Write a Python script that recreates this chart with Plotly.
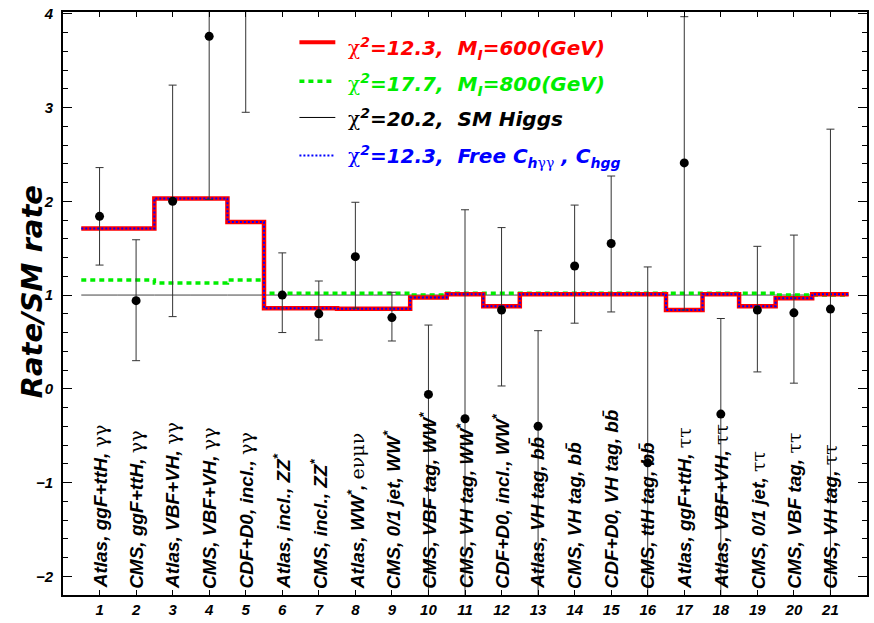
import plotly.graph_objects as go

# Channel index and labels (greek symbols rendered upright in a serif face)
SYM = '<span style="font-family:DejaVu Serif;font-weight:normal;font-style:normal">{}</span>'
GG = SYM.format("γγ")
TT = SYM.format("ττ")
BB = "bb\u0304"

channels = list(range(1, 22))
channel_labels = [
    "Atlas, ggF+ttH, " + GG,
    "CMS, ggF+ttH, " + GG,
    "Atlas, VBF+VH, " + GG,
    "CMS, VBF+VH, " + GG,
    "CDF+D0, incl., " + GG,
    "Atlas, incl., ZZ<sup>*</sup>",
    "CMS, incl., ZZ<sup>*</sup>",
    "Atlas, WW<sup>*</sup>, " + SYM.format("eνμν"),
    "CMS, 0/1 jet, WW<sup>*</sup>",
    "CMS, VBF tag, WW<sup>*</sup>",
    "CMS, VH tag, WW<sup>*</sup>",
    "CDF+D0, incl., WW<sup>*</sup>",
    "Atlas, VH tag, " + BB,
    "CMS, VH tag, " + BB,
    "CDF+D0, VH tag, " + BB,
    "CMS, ttH tag, " + BB,
    "Atlas, ggF+ttH, " + TT,
    "Atlas, VBF+VH, " + TT,
    "CMS, 0/1 jet, " + TT,
    "CMS, VBF tag, " + TT,
    "CMS, VH tag, " + TT,
]

# Measured signal strengths with asymmetric uncertainties
rate = [1.84, 0.94, 2.00, 3.76, 5.60, 1.00, 0.80, 1.41, 0.76, -0.06, -0.32,
        0.84, -0.40, 1.31, 1.55, -0.79, 2.41, -0.27, 0.84, 0.81, 0.85]
err_up = [0.52, 0.65, 1.24, 1.80, 2.00, 0.45, 0.35, 0.58, 0.27, 0.74, 2.23,
          0.88, 1.02, 0.65, 0.72, 2.09, 1.56, 1.02, 0.68, 0.83, 1.92]
err_dn = [0.52, 0.64, 1.23, 1.74, 2.65, 0.40, 0.28, 0.55, 0.25, 2.60, 2.40,
          0.81, 2.20, 0.61, 0.73, 1.90, 1.57, 2.40, 0.66, 0.75, 3.50]

# Model predictions per channel
pred_600 = [1.71, 1.71, 2.03, 2.03, 1.78, 0.86, 0.86, 0.855, 0.855, 0.975, 1.01,
            0.88, 1.01, 1.01, 1.01, 1.01, 0.84, 1.01, 0.88, 0.965, 1.01]
pred_800 = [1.16, 1.16, 1.13, 1.13, 1.16, 1.02, 1.02, 1.02, 1.02, 1.00, 1.02,
            1.02, 1.02, 1.02, 1.02, 1.02, 1.02, 1.02, 1.02, 1.00, 1.00]
pred_sm = [1.0] * 21
pred_free = list(pred_600)

# Legend texts
legend_texts = [
    "χ<sup>2</sup>=12.3,\u00a0\u00a0M<sub>I</sub>=600(GeV)",
    "χ<sup>2</sup>=17.7,\u00a0\u00a0M<sub>I</sub>=800(GeV)",
    "χ<sup>2</sup>=20.2,\u00a0\u00a0SM Higgs",
    "χ<sup>2</sup>=12.3,\u00a0\u00a0Free C<sub>h" + SYM.format("γγ") + "</sub> , C<sub>hgg</sub>",
]

FONT = "DejaVu Sans"
LFONT = "Liberation Sans"


def steps(values):
    edges = [c - 0.5 for c in channels] + [channels[-1] + 0.5]
    return edges, list(values) + [values[-1]]


fig = go.Figure()

styles = [
    (pred_sm, dict(color="#444444", width=1)),
    (pred_800, dict(color="#00ee00", width=3.5, dash="5px,4px")),
    (pred_600, dict(color="#ff0000", width=4.5)),
    (pred_free, dict(color="#0000ff", width=2, dash="2px,2px")),
]
for vals, ln in styles:
    ex, ey = steps(vals)
    fig.add_trace(go.Scatter(x=ex, y=ey, mode="lines", line_shape="hv",
                             line=ln, showlegend=False, hoverinfo="skip"))

fig.add_trace(go.Scatter(
    x=channels, y=rate, mode="markers",
    marker=dict(color="black", size=9),
    error_y=dict(type="data", symmetric=False, array=err_up, arrayminus=err_dn,
                 color="#333333", thickness=1, width=4),
    showlegend=False,
))

# Channel labels written vertically inside the frame
for c, lab in zip(channels, channel_labels):
    fig.add_annotation(x=c, y=-2.155, xref="x", yref="y", text=lab,
                       textangle=-90, xanchor="center", yanchor="bottom",
                       showarrow=False,
                       font=dict(family=LFONT, size=19, color="black",
                                 weight="bold", style="italic"))

# Legend block
x0, x1, xt = 300, 336, 347
row_y = [37, 77, 114, 153]
text_y = [43, 80, 115, 154]
colors = ["#ff0000", "#00ee00", "black", "#0000ff"]
line_styles = [dict(color="#ff0000", width=4),
               dict(color="#00ee00", width=3.5, dash="5px,4px"),
               dict(color="black", width=1),
               dict(color="#0000ff", width=2, dash="2px,2px")]
W, H = 806.0, 597.0
for ry, ty, col, ls, txt in zip(row_y, text_y, colors, line_styles, legend_texts):
    py = (603 - ry) / H
    fig.add_shape(type="line", xref="paper", yref="paper",
                  x0=(x0 - 63) / W, x1=(x1 - 63) / W, y0=py, y1=py, line=ls)
    txt = txt.replace("χ", SYM.format("χ"))
    fig.add_annotation(xref="paper", yref="paper", x=(xt - 63) / W,
                       y=(603 - ty) / H, text=txt, showarrow=False,
                       xanchor="left", yanchor="middle",
                       font=dict(family=FONT, size=20, color=col,
                                 weight="bold", style="italic"))

# Y axis title
fig.add_annotation(xref="paper", yref="paper", x=(32 - 63) / W, y=(603 - 293) / H,
                   text="Rate/SM rate", textangle=-90, showarrow=False,
                   xanchor="center", yanchor="middle",
                   font=dict(family=FONT, size=29, color="black",
                             weight="bold", style="italic"))

tickfont = dict(family=LFONT, size=15, color="black", weight="bold", style="italic")
fig.update_xaxes(range=[0, 22], tickvals=channels, ticktext=[str(c) for c in channels],
                 ticks="inside", ticklen=5, tickcolor="black", showline=True,
                 linecolor="black", linewidth=2, mirror="allticks", showgrid=False,
                 zeroline=False, tickfont=tickfont)
fig.update_yaxes(range=[-2.2, 4.02], tick0=0, dtick=1, ticks="inside", ticklen=9,
                 tickcolor="black", showline=True, linecolor="black", linewidth=2,
                 mirror="allticks", showgrid=False, zeroline=False, tickfont=tickfont,
                 ticklabelstandoff=5,
                 minor=dict(dtick=0.2, ticks="inside", ticklen=5, tickcolor="black",
                            showgrid=False))
fig.update_layout(width=874, height=623, margin=dict(l=63, r=5, t=6, b=20),
                  plot_bgcolor="white", paper_bgcolor="white")

fig.write_html("out.html")
